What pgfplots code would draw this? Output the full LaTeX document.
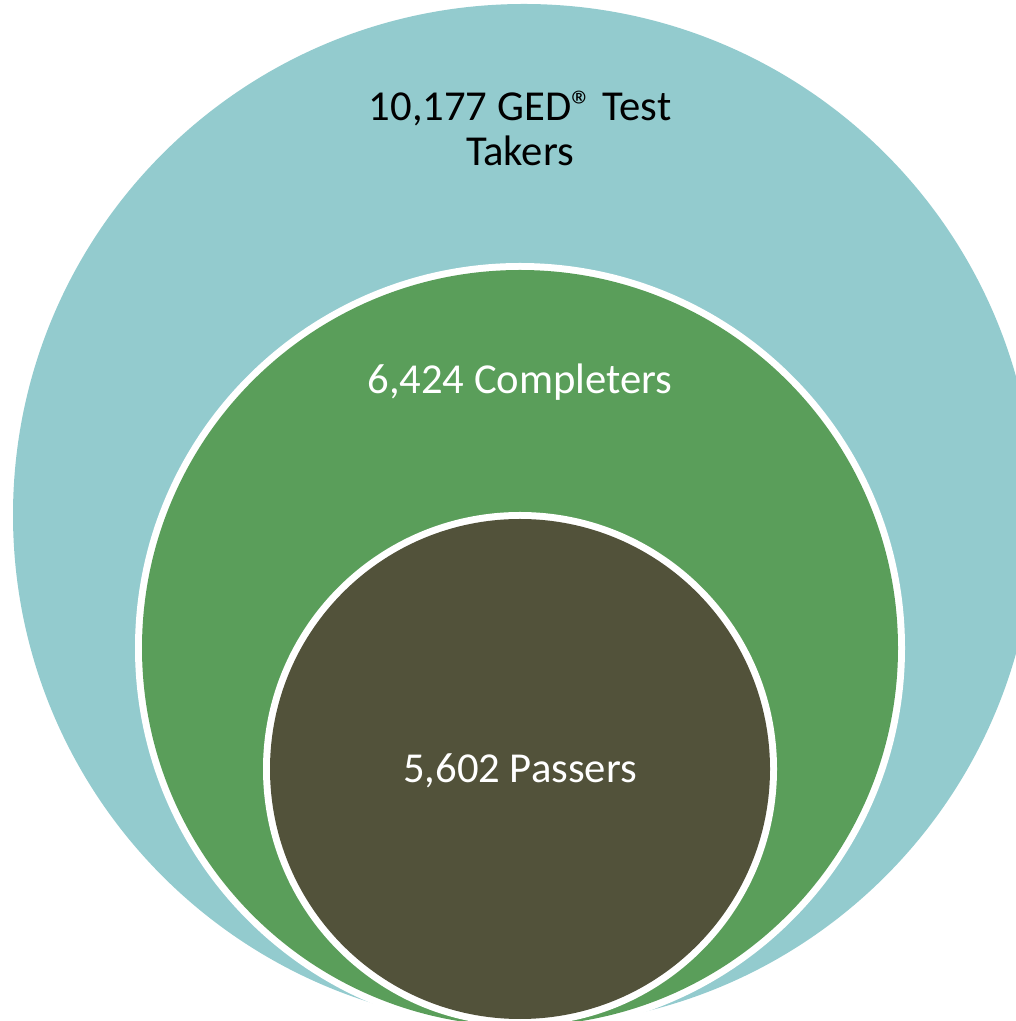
\documentclass[border=0pt]{standalone}
\usepackage{pgfplots}
\pgfplotsset{compat=1.18}
\usepackage{fontspec}
\setmainfont{Carlito}

\definecolor{outerteal}{RGB}{147,203,206}
\definecolor{midgreen}{RGB}{90,158,90}
\definecolor{innerolive}{RGB}{82,82,58}

\begin{document}
\begin{tikzpicture}

  % one unit = one pixel of the reference (0.75pt)
  \begin{axis}[
    width=762pt,
    height=765.75pt,
    scale only axis,
    hide axis,
    xmin=0, xmax=1016,
    ymin=0, ymax=1021,
    clip=true,
  ]

  % Takers (outer)
  \fill[outerteal] (axis cs:524,506) circle[radius=511];

  % Completers (middle), white ring round it
  \fill[white] (axis cs:520,373) circle[radius=385];
  \fill[midgreen] (axis cs:520,373) circle[radius=378];

  % Passers (inner), white ring round it
  \fill[white] (axis cs:520,252) circle[radius=257];
  \fill[innerolive] (axis cs:520,252) circle[radius=250];

  % Labels
  \node[anchor=base, inner sep=0pt, font=\fontsize{32}{34}\selectfont]
    at (axis cs:520,900) {10,177 GED® Test};
  \node[anchor=base, inner sep=0pt, font=\fontsize{32}{34}\selectfont]
    at (axis cs:520,855) {Takers};
  \node[anchor=base, inner sep=0pt, text=white, font=\fontsize{32}{34}\selectfont]
    at (axis cs:520,627) {6,424 Completers};
  \node[anchor=base, inner sep=0pt, text=white, font=\fontsize{32}{34}\selectfont]
    at (axis cs:520,238) {5,602 Passers};

  \end{axis}

  \pgfresetboundingbox
  \path (current axis.south west) rectangle (current axis.north east);

\end{tikzpicture}
\end{document}
